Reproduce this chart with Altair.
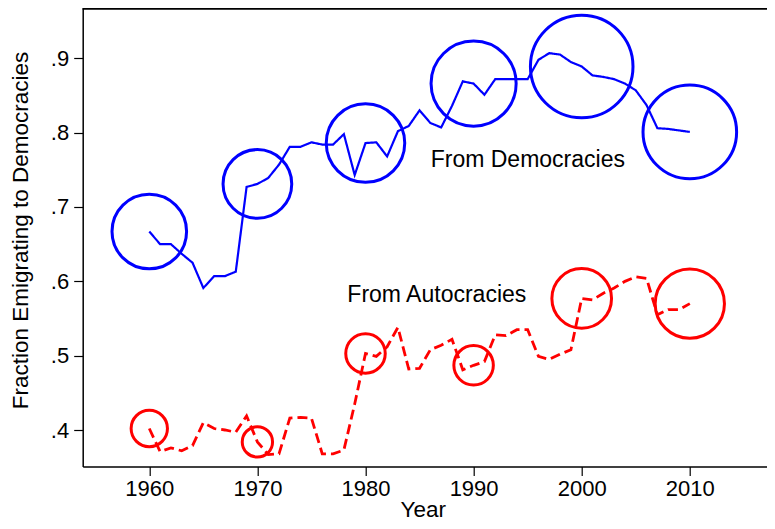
import altair as alt
import pandas as pd

years = list(range(1960, 2011))

from_democracies = [
    0.667, 0.650, 0.650, 0.637, 0.625, 0.591, 0.607, 0.607, 0.613, 0.727,
    0.731, 0.739, 0.757, 0.781, 0.781, 0.787, 0.784, 0.784, 0.798, 0.743,
    0.786, 0.787, 0.768, 0.802, 0.809, 0.830, 0.813, 0.807, 0.836, 0.869,
    0.866, 0.851, 0.872, 0.872, 0.872, 0.872, 0.898, 0.907, 0.905, 0.895,
    0.889, 0.877, 0.875, 0.872, 0.866, 0.857, 0.837, 0.806, 0.805, 0.803,
    0.801,
]

from_autocracies = [
    0.402, 0.371, 0.376, 0.372, 0.379, 0.410, 0.402, 0.400, 0.397, 0.419,
    0.384, 0.367, 0.368, 0.416, 0.417, 0.416, 0.368, 0.368, 0.373, 0.435,
    0.503, 0.499, 0.512, 0.538, 0.482, 0.483, 0.508, 0.514, 0.522, 0.481,
    0.487, 0.492, 0.528, 0.527, 0.535, 0.535, 0.499, 0.495, 0.502, 0.508,
    0.577, 0.575, 0.584, 0.591, 0.600, 0.606, 0.604, 0.555, 0.562, 0.562,
    0.570,
]

decades = [1960, 1970, 1980, 1990, 2000, 2010]
weight_democracies = [13.9, 11.8, 15.4, 18.1, 26.3, 21.9]
weight_autocracies = [3.3, 2.3, 3.9, 3.9, 8.9, 12.0]

groups = ["From Democracies", "From Autocracies"]
colors = ["#0000FF", "#FF0000"]

label_text = ["From Democracies", "From Autocracies"]
label_year = [1986.03, 1978.32]
label_value = [0.7542, 0.5718]

x_ticks = [1960, 1970, 1980, 1990, 2000, 2010]
y_ticks = [0.4, 0.5, 0.6, 0.7, 0.8, 0.9]

# ---- tables ----
lines = pd.DataFrame(
    {
        "Year": years + years,
        "Fraction": from_democracies + from_autocracies,
        "Group": [groups[0]] * len(years) + [groups[1]] * len(years),
    }
)

circ_rows = []
for i, d in enumerate(decades):
    k = years.index(d)
    circ_rows.append({"Year": d, "Fraction": from_democracies[k], "Group": groups[0], "Weight": weight_democracies[i]})
    circ_rows.append({"Year": d, "Fraction": from_autocracies[k], "Group": groups[1], "Weight": weight_autocracies[i]})
circles = pd.DataFrame(circ_rows)

labels = pd.DataFrame({"Text": label_text, "Year": label_year, "Fraction": label_value})

FONT = "Liberation Sans"
W = 684.3
H = 458.5

x_scale = alt.Scale(domain=[1953.84, 2017.14], nice=False, zero=False)
y_scale = alt.Scale(domain=[0.3509, 0.9677], nice=False, zero=False)
color_scale = alt.Scale(domain=groups, range=colors)

x_enc = alt.X(
    "Year:Q",
    scale=x_scale,
    axis=alt.Axis(
        values=x_ticks,
        format="d",
        title="Year",
        grid=False,
        tickSize=9,
        labelPadding=3,
        labelFontSize=22,
        titleFontSize=22.5,
        titleFontWeight="normal",
        titleX=340,
        titleY=49.5,
        titleAlign="center",
        titleBaseline="alphabetic",
    ),
)
y_enc = alt.Y(
    "Fraction:Q",
    scale=y_scale,
    axis=alt.Axis(
        values=y_ticks,
        labelExpr="substring(format(datum.value, '.1f'), 1)",
        title="Fraction Emigrating to Democracies",
        grid=False,
        tickSize=9,
        labelPadding=5,
        labelFontSize=22,
        titleFontSize=22.5,
        titleFontWeight="normal",
        titleAngle=270,
        titleX=-55.4,
        titleY=222,
        titleAlign="center",
        titleBaseline="alphabetic",
    ),
)

line_layer = (
    alt.Chart(lines)
    .mark_line()
    .encode(
        x=x_enc,
        y=y_enc,
        color=alt.Color("Group:N", scale=color_scale, legend=None),
        strokeDash=alt.StrokeDash(
            "Group:N",
            scale=alt.Scale(domain=groups, range=[[1, 0], [10, 5]]),
            legend=None,
        ),
        strokeWidth=alt.StrokeWidth(
            "Group:N", scale=alt.Scale(domain=groups, range=[2.2, 2.8]), legend=None
        ),
    )
)

circle_layer = (
    alt.Chart(circles)
    .mark_point(shape="circle", filled=False, strokeWidth=3, opacity=1)
    .encode(
        x=alt.X("Year:Q", scale=x_scale),
        y=alt.Y("Fraction:Q", scale=y_scale),
        color=alt.Color("Group:N", scale=color_scale, legend=None),
        size=alt.Size(
            "Weight:Q",
            scale=alt.Scale(type="linear", domain=[0, 30], range=[0, 12000], zero=True),
            legend=None,
        ),
    )
)

text_layer = (
    alt.Chart(labels)
    .mark_text(align="left", baseline="alphabetic", fontSize=23, font=FONT, color="black")
    .encode(
        x=alt.X("Year:Q", scale=x_scale),
        y=alt.Y("Fraction:Q", scale=y_scale),
        text="Text:N",
    )
)

top_frame = (
    alt.Chart(labels)
    .mark_rule(color="black", strokeWidth=1.5)
    .encode(x=alt.value(0), x2=alt.value(W), y=alt.value(0.75))
)

chart = (
    alt.layer(line_layer, circle_layer, text_layer, top_frame)
    .properties(
        width=W,
        height=H,
        autosize=alt.AutoSizeParams(type="none"),
        padding={"left": 74.7, "top": 0, "right": 0, "bottom": 54.5},
        background="white",
    )
    .configure_view(stroke=None)
    .configure_axis(
        domainColor="black",
        domainWidth=1.5,
        tickColor="black",
        tickWidth=1.2,
        labelColor="black",
        titleColor="black",
        labelFont=FONT,
        titleFont=FONT,
    )
)

chart.save("out.html", embed_options={"renderer": "svg", "actions": False})
